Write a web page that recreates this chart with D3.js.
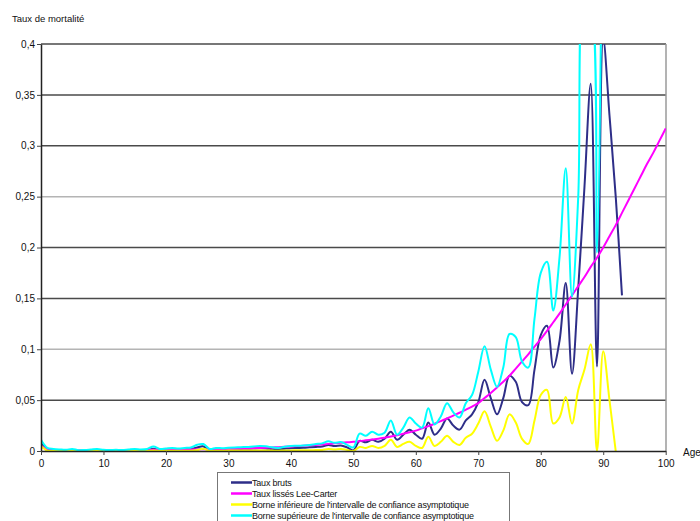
<!DOCTYPE html>
<html>
<head>
<meta charset="utf-8">
<script src="https://cdn.jsdelivr.net/npm/d3@7"></script>
<style>
  body { margin: 0; background: #fff; }
  svg text { font-family: "Liberation Sans", Arial, sans-serif; fill: #111; }
</style>
</head>
<body>
<div id="chart"></div>
<script>

// ---- data ----
var ages = d3.range(0, 101);

var tauxBruts = [
  0.008, 0.001, 0.0007, 0.0005, 0.0004, 0.0006, 0.0003, 0.0004, 0.0005, 0.0007,
  0.0004, 0.0003, 0.0004, 0.0003, 0.0006, 0.0008, 0.0006, 0.0009, 0.0022, 0.0009,
  0.0012, 0.0015, 0.0011, 0.0016, 0.0018, 0.0035, 0.0045, 0.0008, 0.0014, 0.0012,
  0.0016, 0.0018, 0.002, 0.0022, 0.0024, 0.0026, 0.0025, 0.0018, 0.0015, 0.0022,
  0.0028, 0.003, 0.0032, 0.0036, 0.004, 0.0045, 0.006, 0.0048, 0.0055, 0.0035,
  0.0005, 0.01, 0.0085, 0.011, 0.009, 0.012, 0.019, 0.011, 0.016, 0.021,
  0.016, 0.012, 0.028, 0.016, 0.022, 0.032, 0.025, 0.021, 0.03, 0.036,
  0.048, 0.07, 0.052, 0.036, 0.052, 0.074, 0.068, 0.048, 0.045, 0.08,
  0.114, 0.123, 0.082, 0.108, 0.165, 0.076, 0.16, 0.26, 0.361, 0.083,
  0.405, 0.33, 0.25, 0.153
];

var leeCarter = [
  0.005, 0.0015, 0.0008, 0.0006, 0.0005, 0.0004, 0.0004, 0.0004, 0.0004, 0.0004,
  0.0004, 0.0004, 0.0004, 0.0004, 0.0005, 0.0007, 0.0009, 0.0011, 0.0013, 0.0014,
  0.0015, 0.0015, 0.0015, 0.0015, 0.0015, 0.0016, 0.0016, 0.0017, 0.0018, 0.0019,
  0.002, 0.0022, 0.0024, 0.0026, 0.0028, 0.003, 0.0032, 0.0035, 0.0038, 0.0041,
  0.0044, 0.0048, 0.0052, 0.0056, 0.006, 0.0065, 0.007, 0.0075, 0.008, 0.0085,
  0.009, 0.0097, 0.0105, 0.0113, 0.0121, 0.013, 0.0142, 0.0155, 0.0169, 0.0184,
  0.02, 0.0222, 0.0244, 0.0268, 0.0293, 0.032, 0.0348, 0.0376, 0.0406, 0.0437,
  0.047, 0.052, 0.057, 0.0625, 0.068, 0.074, 0.081, 0.088, 0.095, 0.1025,
  0.11, 0.118, 0.1265, 0.135, 0.144, 0.153, 0.162, 0.171, 0.181, 0.19,
  0.2, 0.211, 0.222, 0.234, 0.246, 0.258, 0.27, 0.282, 0.293, 0.305,
  0.317
];

var borneInf = [
  0.005, 0.0003, 0.0001, 0.0001, 0.0001, 0.0001, 0.0001, 0.0001, 0.0001, 0.0001,
  0.0001, 0.0001, 0.0001, 0.0001, 0.0001, 0.0001, 0.0001, 0, 0.0005, 0.0002,
  0.0002, 0.0002, 0.0002, 0.0002, 0.0002, 0.001, 0.0022, 0, 0.0003, 0.0003,
  0.0004, 0.0004, 0.0004, 0.0005, 0.0005, 0.0005, 0.0005, 0.0004, 0.0003, 0.0005,
  0.0006, 0.0007, 0.0008, 0.0008, 0.0009, 0.001, 0.002, 0.0015, 0.002, 0.001,
  0, 0.004, 0.003, 0.005, 0.003, 0.005, 0.011, 0.004, 0.007, 0.009,
  0.005, 0.003, 0.014, 0.005, 0.009, 0.015, 0.009, 0.006, 0.013, 0.017,
  0.027, 0.039, 0.024, 0.01, 0.02, 0.036, 0.028, 0.012, 0.007, 0.03,
  0.055, 0.06, 0.027, 0.033, 0.053, 0.027, 0.06, 0.08, 0.105, 0,
  0.098, 0.05, 0
];

var borneSup = [
  0.011, 0.003, 0.002, 0.0015, 0.0012, 0.002, 0.0008, 0.001, 0.0015, 0.002,
  0.0012, 0.001, 0.0012, 0.001, 0.0015, 0.002, 0.0015, 0.002, 0.0045, 0.002,
  0.0025, 0.003, 0.0025, 0.003, 0.0035, 0.0062, 0.0068, 0.002, 0.003, 0.0028,
  0.0032, 0.0035, 0.0038, 0.004, 0.0045, 0.0048, 0.0046, 0.0036, 0.003, 0.0042,
  0.005, 0.0052, 0.0055, 0.006, 0.0068, 0.0075, 0.0095, 0.008, 0.0088, 0.006,
  0.0035, 0.017, 0.015, 0.019, 0.016, 0.018, 0.03, 0.016, 0.023, 0.033,
  0.027, 0.023, 0.042, 0.026, 0.034, 0.047, 0.038, 0.033, 0.047, 0.055,
  0.078, 0.103, 0.08, 0.063, 0.082, 0.115, 0.112, 0.088, 0.082, 0.13,
  0.175, 0.186, 0.138, 0.19, 0.278, 0.152, 0.25, 0.46, 0.45, 0.195,
  0.65
];

var yTicks = [0, 0.05, 0.1, 0.15, 0.2, 0.25, 0.3, 0.35, 0.4];
var xTicks = [0, 10, 20, 30, 40, 50, 60, 70, 80, 90, 100];

var seriesNames = [
  "Taux bruts",
  "Taux lissés Lee-Carter",
  "Borne inférieure de l'intervalle de confiance asymptotique",
  "Borne supérieure de l'intervalle de confiance asymptotique"
];
var seriesColors = ["#2e2e88", "#ff00ff", "#ffff00", "#00ffff"];


// ---- svg ----
var W = 700, H = 521;
var plot = { left: 41, right: 666, top: 44, bottom: 451 };

var svg = d3.select("#chart").append("svg")
  .attr("width", W).attr("height", H);

var x = d3.scaleLinear().domain([0, 100]).range([plot.left, 665.7]);
var y = d3.scaleLinear().domain([0, 0.4]).range([plot.bottom, plot.top]);

// gridlines (some come out lighter in the original)
svg.append("g").selectAll("line")
  .data(yTicks.filter(function (d) { return d > 0; }))
  .enter().append("line")
  .attr("x1", plot.left).attr("x2", plot.right)
  .attr("y1", function (d) { return y(d); })
  .attr("y2", function (d) { return y(d); })
  .attr("stroke", function (d) { return (d === 0.25 || d === 0.1) ? "#b4b4b4" : "#4a4a4a"; })
  .attr("stroke-width", 1.5);

// right border
svg.append("line")
  .attr("x1", plot.right).attr("x2", plot.right)
  .attr("y1", plot.top).attr("y2", plot.bottom)
  .attr("stroke", "#9a9a9a").attr("stroke-width", 1.5);

// clip the curves to the plot area
svg.append("clipPath").attr("id", "clip")
  .append("rect")
  .attr("x", plot.left).attr("y", plot.top)
  .attr("width", plot.right - plot.left).attr("height", plot.bottom - plot.top);

var line = d3.line()
  .x(function (d, i) { return x(ages[i]); })
  .y(function (d) { return y(d); })
  .curve(d3.curveCatmullRom.alpha(0.5));

var allSeries = [tauxBruts, leeCarter, borneInf, borneSup];

svg.append("g").attr("clip-path", "url(#clip)")
  .selectAll("path")
  .data(allSeries)
  .enter().append("path")
  .attr("d", line)
  .attr("fill", "none")
  .attr("stroke", function (d, i) { return seriesColors[i]; })
  .attr("stroke-width", 2)
  .attr("stroke-linejoin", "round");

// axes
var fmt = function (d) { return String(+d.toFixed(2)).replace(".", ","); };

var yAxis = svg.append("g")
  .attr("transform", "translate(" + plot.left + ",0)")
  .call(d3.axisLeft(y).tickValues(yTicks).tickFormat(fmt).tickSize(4).tickSizeOuter(0).tickPadding(2));

var xAxis = svg.append("g")
  .attr("transform", "translate(0," + plot.bottom + ")")
  .call(d3.axisBottom(x).tickValues(xTicks).tickSize(4).tickSizeOuter(0).tickPadding(5));

[yAxis, xAxis].forEach(function (a) {
  a.select(".domain").attr("stroke", "#222").attr("stroke-width", 1.5);
  a.selectAll(".tick line").attr("stroke", "#444");
  a.selectAll("text").attr("font-size", 10).attr("font-family", "Liberation Sans, Arial, sans-serif").attr("fill", "#222");
});

// axis titles
svg.append("text")
  .attr("x", 12).attr("y", 22)
  .attr("font-size", 9.5)
  .text("Taux de mortalité");

svg.append("text")
  .attr("x", 683).attr("y", 456)
  .attr("font-size", 10)
  .text("Age");

// legend (box runs off the bottom edge, as in the original)
var legend = svg.append("g");
legend.append("rect")
  .attr("x", 217.5).attr("y", 472.5)
  .attr("width", 292).attr("height", 70)
  .attr("fill", "#fff").attr("stroke", "#777");

var rowY = [482.5, 493.5, 504.5, 515.5];
var rows = legend.selectAll("g.row")
  .data(seriesNames)
  .enter().append("g").attr("class", "row")
  .attr("transform", function (d, i) { return "translate(0," + rowY[i] + ")"; });

rows.append("line")
  .attr("x1", 231).attr("x2", 252)
  .attr("stroke", function (d, i) { return seriesColors[i]; })
  .attr("stroke-width", 2.5);

rows.append("text")
  .attr("x", 252).attr("y", 3.2)
  .attr("font-size", 9)
  .attr("letter-spacing", -0.2)
  .text(function (d) { return d; });

</script>
</body>
</html>
